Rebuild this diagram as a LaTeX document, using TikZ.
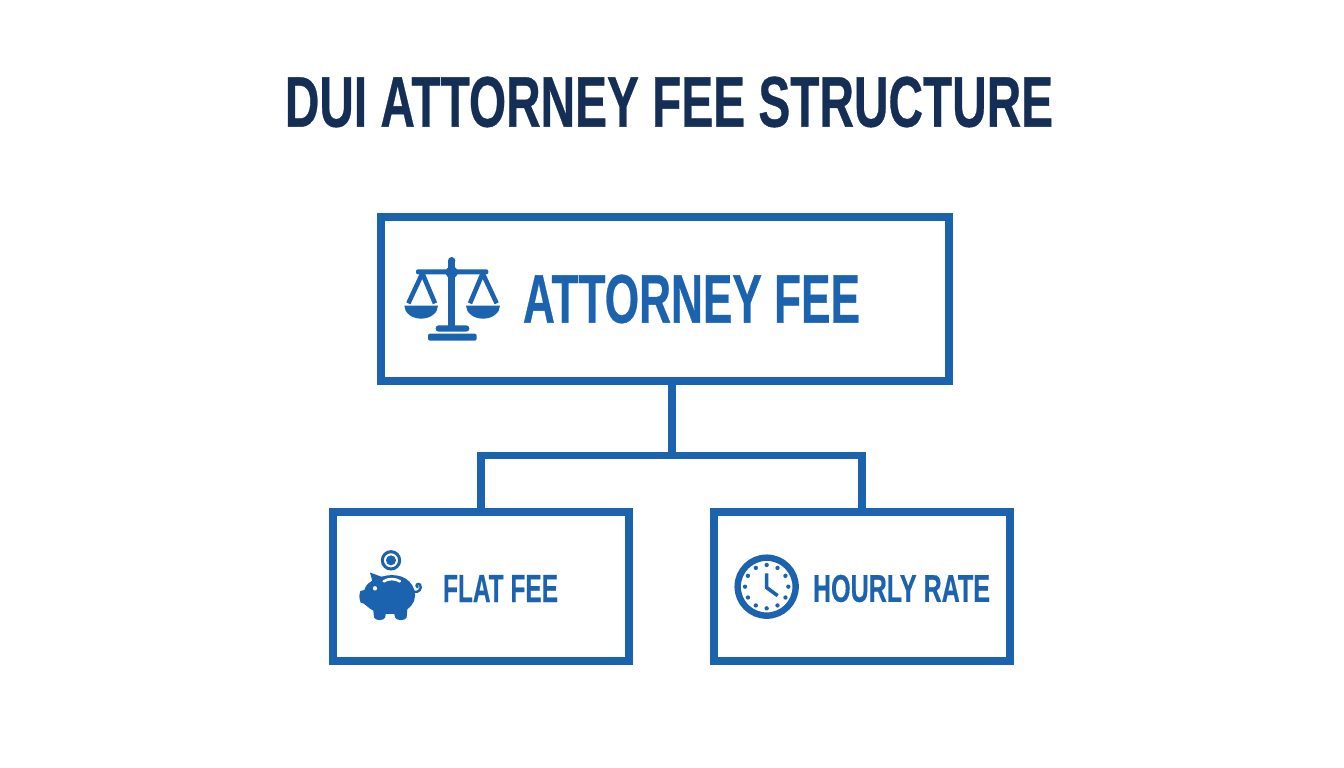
\documentclass[tikz,border=0pt]{standalone}
\usepackage{fontspec}
\setmainfont[FakeBold=0.6]{Liberation Sans}
\usepackage{graphicx}
\definecolor{fee}{HTML}{1B63AE}
\definecolor{navy}{HTML}{142E56}
\tikzset{
  box/.style={draw=fee,line width=7.5pt,fill=white,inner sep=0pt,outer sep=0pt,anchor=north west},
  conn/.style={draw=fee,line width=7.5pt,line join=miter},
  lbl/.style={inner sep=0pt,text=fee},
  ic/.style={fill=fee,draw=none},
  zoomed/.style={x=0.3333pt,y=-0.3333pt}
}
\newcommand{\fit}[3]{\resizebox{#1pt}{#2pt}{\bfseries #3}}
\begin{document}
\begin{tikzpicture}[x=1pt,y=-1pt]
\useasboundingbox[fill=white] (0,0) rectangle (1344,768);
\node[inner sep=0pt,text=navy] (title) at (669,102) {\fit{768}{50}{DUI ATTORNEY FEE STRUCTURE}};
\node[box,minimum width=568pt,minimum height=164pt] (main) at (381,217) {};
\node[box,minimum width=296pt,minimum height=149pt] (flat) at (333,512) {};
\node[box,minimum width=296pt,minimum height=149pt] (hourly) at (714,512) {};
\coordinate (stem) at (672,455.5);
\draw[conn] (stem |- main.south) -- (stem);
\draw[conn] (flat.north) -- (flat.north |- stem) -- (hourly.north |- stem) -- (hourly.north);
\node[lbl] (t1) at (691.5,299) {\fit{337}{48}{ATTORNEY FEE}};
\node[lbl] (t2) at (500.5,588.5) {\fit{115}{27}{FLAT FEE}};
\node[lbl] (t3) at (901.5,588.5) {\fit{177}{27}{HOURLY RATE}};
% scales icon
\begin{scope}[shift={(390,240)},zoomed]
  \fill[ic,rounded corners=2pt] (78,88) rectangle (295,103);
  \fill[ic] (185,97) circle (18);
  \fill[ic] (185,62) circle (11);
  \fill[ic] (175,60) rectangle (195,262);
  \fill[ic,rounded corners=3pt] (137,275) rectangle (238,256);
  \fill[ic,rounded corners=2pt] (114,302) rectangle (260,281);
  \draw[fee,line width=4.6pt,line join=bevel] (55,190) -- (97,100) -- (135,190);
  \draw[fee,line width=4.6pt,line join=bevel] (240,190) -- (278,100) -- (320,190);
  \fill[ic] (43,197) -- (144,197) arc[start angle=0,end angle=180,x radius=50.5,y radius=39] -- cycle;
  \fill[ic] (228,197) -- (330,197) arc[start angle=0,end angle=180,x radius=51,y radius=39] -- cycle;
\end{scope}
% piggy bank icon
\begin{scope}[shift={(345,540)},zoomed]
  \draw[fee,line width=3pt] (138,61) circle (26);
  \fill[ic] (138,61) circle (15);
  \fill[ic] (75,98) .. controls (90,102) and (100,108) .. (110,110)
     .. controls (150,98) and (195,108) .. (208,150)
     .. controls (215,175) and (205,195) .. (187,208)
     -- (185,232) .. controls (184,243) and (152,243) .. (150,232)
     -- (148,222) -- (122,222) -- (121,232)
     .. controls (119,243) and (89,243) .. (87,232)
     -- (85,212) .. controls (72,205) and (62,195) .. (55,190)
     -- (47,188) .. controls (42,175) and (42,165) .. (46,153)
     -- (58,150) .. controls (62,135) and (72,128) .. (82,122) -- cycle;
  \draw[fee,line width=2.4pt,line cap=round] (205,155) .. controls (222,160) and (232,145) .. (225,134) .. controls (218,128) and (210,136) .. (218,142);
  \fill[white] (90,145) circle (6.5);
  \draw[white,line width=2.6pt,line cap=round] (116,124) .. controls (130,115) and (150,115) .. (165,124);
\end{scope}
% clock icon
\begin{scope}[shift={(725,545)},zoomed]
  \draw[fee,line width=6.4pt] (125,125) circle (87);
  \foreach \a in {0,30,...,330}
    \fill[ic] (125,125) ++(\a:65) circle (6.5);
  \draw[fee,line width=3.6pt,line join=miter] (125,85) -- (125,128) -- (158,152);
\end{scope}
\end{tikzpicture}
\end{document}
